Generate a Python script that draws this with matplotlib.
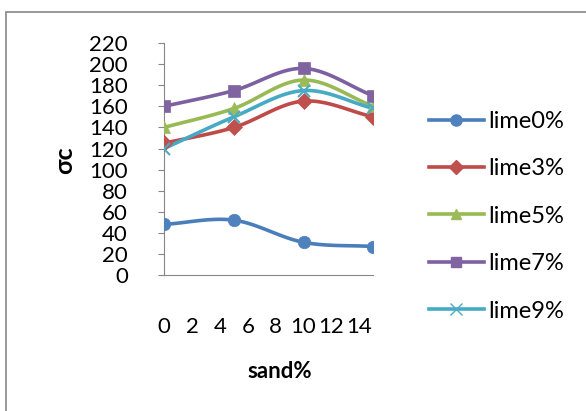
import matplotlib
matplotlib.use("Agg")
import matplotlib.pyplot as plt
import numpy as np
from matplotlib.patches import Rectangle

sand = [0, 5, 10, 15]
lime0 = [48, 52, 31, 27]
lime3 = [125, 140, 165, 150]
lime5 = [140, 158, 185, 160]
lime7 = [160, 175, 196, 170]
lime9 = [120, 150, 175, 158]
labels = ["lime0%", "lime3%", "lime5%", "lime7%", "lime9%"]

series = [lime0, lime3, lime5, lime7, lime9]
line_cols = ["#4A7EBB", "#BE4B48", "#98B954", "#7D60A0", "#46AAC5"]
mark_cols = ["#4F81BD", "#C0504D", "#9BBB59", "#8064A2", "#4BACC6"]
markers = ["o", "D", "^", "s", "x"]
msizes = [9, 8, 8, 8, 9]

plt.rcParams['font.family'] = ['Lato', 'DejaVu Sans']


def smooth(x, y, n=30):
    # Catmull-Rom style curve through the points, like Excel's smoothed line
    x = np.asarray(x, float)
    y = np.asarray(y, float)
    px = np.concatenate([[2 * x[0] - x[1]], x, [2 * x[-1] - x[-2]]])
    py = np.concatenate([[2 * y[0] - y[1]], y, [2 * y[-1] - y[-2]]])
    xs, ys = [], []
    t = np.linspace(0, 1, n)
    for i in range(1, len(px) - 2):
        p0, p1, p2, p3 = px[i - 1:i + 3]
        q0, q1, q2, q3 = py[i - 1:i + 3]
        for a, b, c, d, out in ((p0, p1, p2, p3, xs), (q0, q1, q2, q3, ys)):
            out.extend(0.5 * (2 * b + (-a + c) * t + (2 * a - 5 * b + 4 * c - d) * t ** 2
                              + (-a + 3 * b - 3 * c + d) * t ** 3))
    return xs, ys


fig = plt.figure(figsize=(5.86, 4.11), dpi=100)
fig.patches.append(Rectangle((6 / 586, -0.1), 1.2, 1.1 - 12 / 411, transform=fig.transFigure,
                             fill=False, edgecolor="#888888", linewidth=1.2))
ax = fig.add_axes([0.280, 0.331, 0.357, 0.564])

handles = []
for ys, lc, mc, m, ms, lab in zip(series, line_cols, mark_cols, markers, msizes, labels):
    sx, sy = smooth(sand, ys)
    ax.plot(sx, sy, color=lc, linewidth=2.6, solid_capstyle="round", zorder=2)
    ax.plot(sand, ys, linestyle="none", marker=m, markersize=ms, color=mc,
            markeredgecolor=mc, markeredgewidth=1.5 if m == "x" else 0.5, zorder=3)
    h, = ax.plot([], [], color=lc, linewidth=2.6, marker=m, markersize=ms - 1,
                 markerfacecolor=mc, markeredgecolor=mc, label=lab)
    handles.append(h)

ax.set_xlim(0, 15)
ax.set_ylim(0, 220)
ax.set_xticks(np.arange(0, 15, 2))
ax.set_yticks(np.arange(0, 221, 20))
for s in ["top", "right"]:
    ax.spines[s].set_visible(False)
for s in ["left", "bottom"]:
    ax.spines[s].set_color("#868686")
ax.tick_params(axis="y", length=4, color="#868686", labelsize=16, pad=22)
ax.tick_params(axis="x", length=0, labelsize=16, pad=30)

fig.text(0.111, 0.611, "σc", rotation=90, fontsize=18, fontweight="bold",
         ha="center", va="center")
fig.text(0.478, 0.095, "sand%", fontsize=16, fontweight="bold", ha="center", va="center")

fig.legend(handles=handles, loc="center left", bbox_to_anchor=(0.695, 0.474),
           frameon=False, fontsize=17, handlelength=2.33, labelspacing=1.12,
           handletextpad=0.2)

fig.savefig("out.png", dpi=100)
